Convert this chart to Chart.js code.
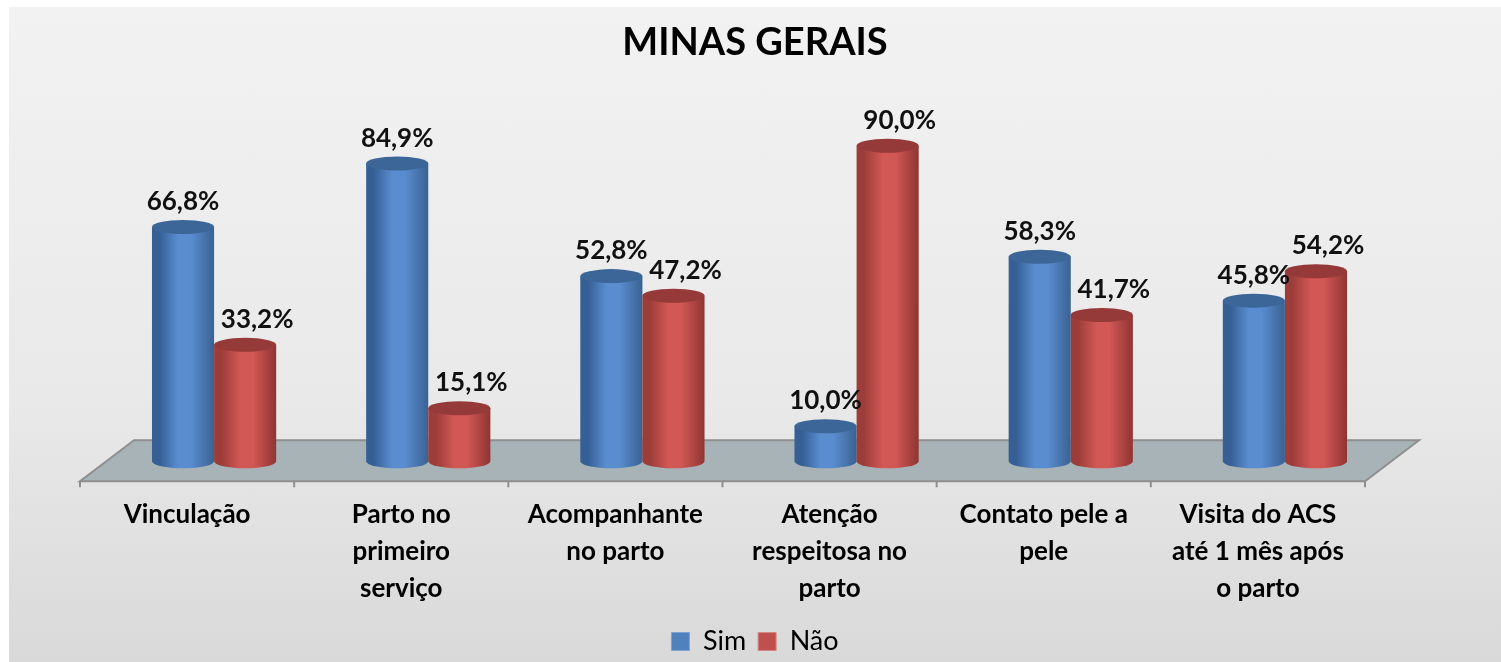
<!DOCTYPE html>
<html>
<head>
<meta charset="utf-8">
<script src="https://cdn.jsdelivr.net/npm/chart.js@4.4.1/dist/chart.umd.min.js"></script>
<style>
  html, body { margin: 0; padding: 0; background: #ffffff; }
  #panel {
    position: absolute; left: 9px; top: 7px; width: 1492px; height: 655px;
    background: linear-gradient(to bottom, #f2f2f2 0%, #e9e9e9 60%, #d9d9d9 100%);
  }
  #chart { display: block; }
</style>
</head>
<body>
<div id="panel"><canvas id="chart" width="1492" height="655"></canvas></div>
<script>
  const categories = [
    ['Vinculação'],
    ['Parto no', 'primeiro', 'serviço'],
    ['Acompanhante', 'no parto'],
    ['Atenção', 'respeitosa no', 'parto'],
    ['Contato pele a', 'pele'],
    ['Visita do ACS', 'até 1 mês após', 'o parto']
  ];
  const seriesNames = ['Sim', 'Não'];
  const simValues = [66.8, 84.9, 52.8, 10.0, 58.3, 45.8];
  const naoValues = [33.2, 15.1, 47.2, 90.0, 41.7, 54.2];

  const FONT = 'Lato, "Open Sans", sans-serif';
  const DEPTH_X = 27;   // half of the floor depth, horizontal
  const DEPTH_Y = 20;   // half of the floor depth, vertical
  const ELLIPSE_RY = 7;
  const LABEL_NUDGE = [0, 12];

  const palette = [
    { legend: '#4f81bd', dark: '#355f95', light: '#5a8dd0', right: '#3a6293', top: '#3d6698' },
    { legend: '#c0504d', dark: '#9c3d3a', light: '#d25855', right: '#8f3533', top: '#953a38' }
  ];

  function formatPct(v) {
    return v.toFixed(1).replace('.', ',') + '%';
  }

  function drawCylinder(ctx, cx, top, base, w, c) {
    const rx = w / 2;
    const left = cx - rx;
    const right = cx + rx;
    const body = ctx.createLinearGradient(left, 0, right, 0);
    body.addColorStop(0, c.dark);
    body.addColorStop(0.12, c.dark);
    body.addColorStop(0.42, c.light);
    body.addColorStop(0.62, c.light);
    body.addColorStop(1, c.right);
    ctx.beginPath();
    ctx.moveTo(left, top);
    ctx.lineTo(left, base);
    ctx.ellipse(cx, base, rx, ELLIPSE_RY, 0, Math.PI, 0, true);
    ctx.lineTo(right, top);
    ctx.closePath();
    ctx.fillStyle = body;
    ctx.fill();

    ctx.beginPath();
    ctx.ellipse(cx, top, rx, ELLIPSE_RY, 0, 0, Math.PI * 2);
    ctx.fillStyle = c.top;
    ctx.fill();
  }

  const cylinderPlugin = {
    id: 'cylinders',
    beforeDatasetsDraw(chart) {
      const { ctx, chartArea, scales } = chart;
      const zero = scales.y.getPixelForValue(0);
      const left = chartArea.left;
      const right = chartArea.right;

      // floor
      ctx.save();
      ctx.beginPath();
      ctx.moveTo(left, zero + DEPTH_Y);
      ctx.lineTo(right, zero + DEPTH_Y);
      ctx.lineTo(right + 2 * DEPTH_X, zero - DEPTH_Y - 1);
      ctx.lineTo(left + 2 * DEPTH_X, zero - DEPTH_Y - 1);
      ctx.closePath();
      ctx.fillStyle = '#a8b3b7';
      ctx.fill();
      ctx.strokeStyle = '#8f8f8f';
      ctx.lineWidth = 2;
      ctx.stroke();

      // tick marks on the front edge
      const n = categories.length;
      const step = (right - left) / n;
      ctx.beginPath();
      for (let i = 0; i <= n; i++) {
        const x = left + i * step;
        ctx.moveTo(x, zero + DEPTH_Y);
        ctx.lineTo(x, zero + DEPTH_Y + 6);
      }
      ctx.stroke();

      // cylinders
      const metas = [chart.getDatasetMeta(0), chart.getDatasetMeta(1)];
      for (let i = 0; i < n; i++) {
        metas.forEach((meta, d) => {
          const bar = meta.data[i];
          drawCylinder(ctx, bar.x + DEPTH_X, bar.y, bar.base, bar.width, palette[d]);
        });
      }

      // value labels
      ctx.font = 'bold 26px ' + FONT;
      ctx.fillStyle = '#111111';
      ctx.textAlign = 'center';
      ctx.textBaseline = 'alphabetic';
      metas.forEach((meta, d) => {
        const values = chart.data.datasets[d].data;
        meta.data.forEach((bar, i) => {
          ctx.fillText(formatPct(values[i]), bar.x + DEPTH_X + LABEL_NUDGE[d], bar.y - 17);
        });
      });
      ctx.restore();
      return false;
    }
  };

  new Chart(document.getElementById('chart'), {
    type: 'bar',
    data: {
      labels: categories,
      datasets: [
        { label: seriesNames[0], data: simValues, backgroundColor: palette[0].legend, borderColor: '#7fa3d0', borderWidth: 1 },
        { label: seriesNames[1], data: naoValues, backgroundColor: palette[1].legend, borderColor: '#d88684', borderWidth: 1 }
      ]
    },
    options: {
      responsive: false,
      animation: false,
      categoryPercentage: 0.58,
      barPercentage: 1.0,
      layout: { padding: { left: 0, right: 0, top: 0, bottom: -3 } },
      plugins: {
        title: {
          display: true,
          text: 'MINAS GERAIS',
          color: '#000000',
          font: { family: FONT, size: 38, weight: 'bold', lineHeight: 1.2 },
          padding: { top: 13, bottom: 45 }
        },
        legend: {
          position: 'bottom',
          labels: {
            color: '#000000',
            font: { family: FONT, size: 27 },
            boxWidth: 18,
            boxHeight: 18,
            padding: 12
          }
        },
        tooltip: { enabled: false }
      },
      scales: {
        x: {
          offset: true,
          grid: { display: false, drawTicks: false },
          border: { display: false },
          ticks: {
            color: '#000000',
            padding: 35,
            maxRotation: 0,
            autoSkip: false,
            font: { family: FONT, size: 26, weight: 'bold', lineHeight: 1.42 }
          },
          afterFit(scale) { scale.height -= 26; }
        },
        y: {
          min: 0,
          max: 100,
          grid: { display: false },
          border: { display: false },
          ticks: { display: false },
          afterFit(scale) { scale.width = 71; }
        },
        yRight: {
          position: 'right',
          grid: { display: false },
          border: { display: false },
          ticks: { display: false },
          afterFit(scale) { scale.width = 136; }
        }
      }
    },
    plugins: [cylinderPlugin]
  });
</script>
</body>
</html>
